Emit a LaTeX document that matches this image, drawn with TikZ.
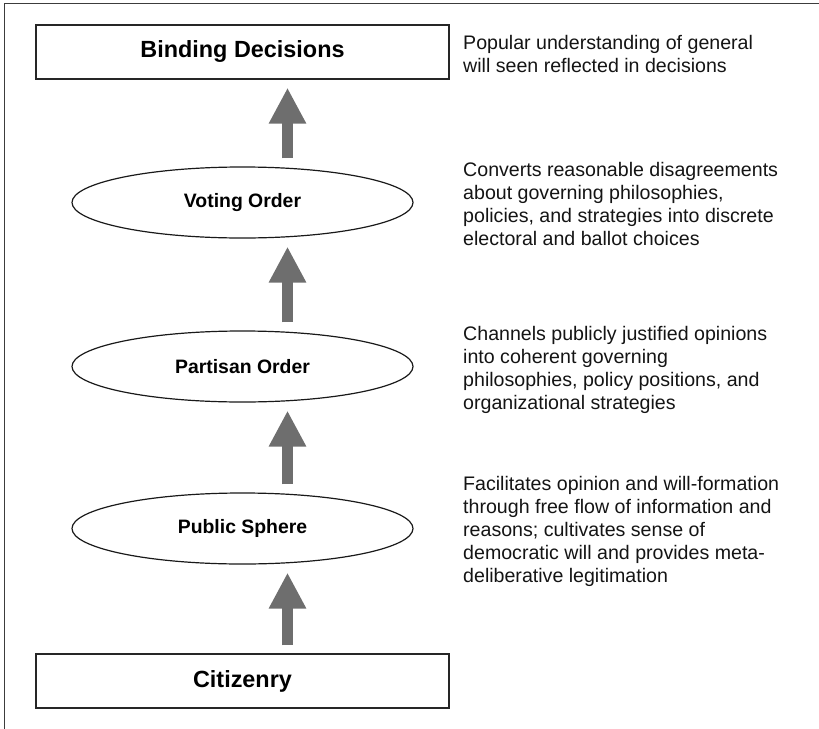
\documentclass[tikz,border=0pt]{standalone}
\usepackage{fontspec}
\setmainfont{Liberation Sans}
\usetikzlibrary{arrows.meta,shapes.geometric}
\definecolor{arrowgray}{RGB}{110,110,110}
\definecolor{framegray}{RGB}{60,60,60}
\begin{document}
\begin{tikzpicture}[x=1pt,y=-1pt,
  endbox/.style={draw=black!85, line width=1.4pt, minimum width=413pt, minimum height=54pt, inner sep=0pt, font=\fontsize{23.4}{26}\selectfont\bfseries},
  layer/.style={draw=black!90, line width=1.2pt, ellipse, minimum width=341pt, minimum height=71pt, inner sep=0pt, font=\fontsize{19.4}{22}\selectfont\bfseries},
  desc/.style={anchor=north west, inner sep=0pt, align=left, font=\fontsize{19.6}{23.1}\selectfont, text=black!92},
  bigarrow/.style={draw=arrowgray, line width=11pt, -{Triangle[width=35pt,length=36pt]}, arrowgray, shorten <=8pt, shorten >=8pt}
]
\useasboundingbox (0,0) rectangle (819,728);
\draw[framegray, line width=1pt] (4.5,3.5) rectangle (840,750);

\node[endbox] (bd) at (242.5,52) {Binding Decisions};
\node[layer] (vo) at (242.5,202.5) {Voting Order};
\node[layer] (po) at (242.5,366.5) {Partisan Order};
\node[layer] (ps) at (242.5,528.5) {Public Sphere};
\node[endbox] (ci) at (242.5,681) {Citizenry};

\coordinate (ax) at (287.5,0);
\draw[bigarrow] (ci.north -| ax) -- (ps.south -| ax);
\draw[bigarrow] (ps.north -| ax) -- (po.south -| ax);
\draw[bigarrow] (po.north -| ax) -- (vo.south -| ax);
\draw[bigarrow] (vo.north -| ax) -- (bd.south -| ax);

\node[desc] (t1) at (463,35) {Popular understanding of general\\will seen reflected in decisions};
\node[desc] (t2) at (463,162) {Converts reasonable disagreements\\about governing philosophies,\\policies, and strategies into discrete\\electoral and ballot choices};
\node[desc] (t3) at (463,326) {Channels publicly justified opinions\\into coherent governing\\philosophies, policy positions, and\\organizational strategies};
\node[desc] (t4) at (463,476) {Facilitates opinion and will-formation\\through free flow of information and\\reasons; cultivates sense of\\democratic will and provides meta-\\deliberative legitimation};
\end{tikzpicture}
\end{document}
